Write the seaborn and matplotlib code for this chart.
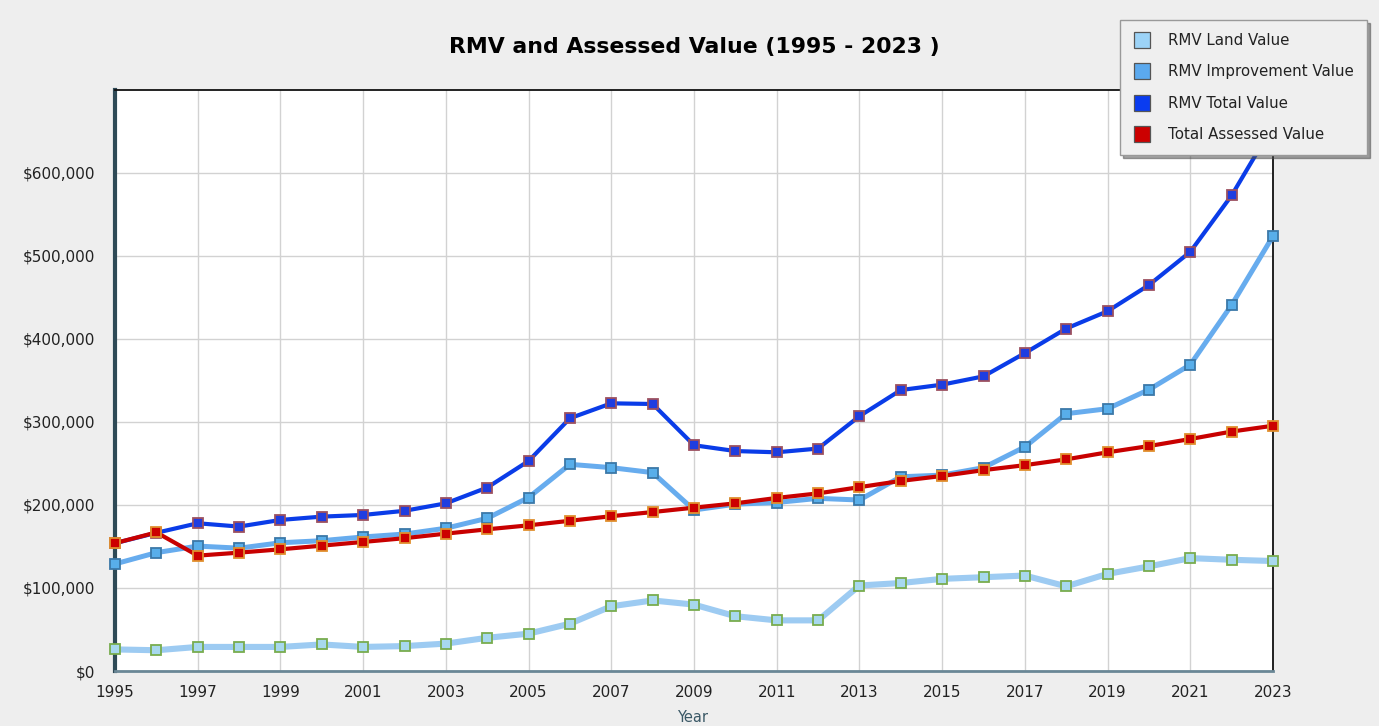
import matplotlib
matplotlib.use("Agg")
import matplotlib.pyplot as plt
import matplotlib.ticker as mticker
from matplotlib.lines import Line2D
import seaborn as sns
import pandas as pd

# ---------------- data ----------------
years = list(range(1995, 2024))
rmv_land = [26000, 25000, 29000, 29000, 29000, 32000, 29000, 30000, 33000, 40000,
            45000, 57000, 78000, 85000, 80000, 66000, 61000, 61000, 103000, 106000,
            111000, 113000, 115000, 102000, 117000, 126000, 136000, 134000, 132500]
rmv_improvement = [129000, 142600, 150500, 148000, 154500, 157000, 161500, 165000, 172000, 184000,
                   209000, 249000, 245000, 239000, 194000, 201000, 203000, 208000, 206000, 234000,
                   236000, 245000, 270000, 310000, 316000, 339000, 369000, 441000, 524000]
rmv_total = [154000, 166500, 178000, 174000, 182000, 186000, 188000, 193000, 202000, 221000,
             253000, 304500, 322500, 321700, 272000, 265000, 263500, 268000, 307000, 338500,
             345000, 355000, 383000, 412600, 433500, 465000, 505000, 573000, 657000]
total_assessed = [154000, 167000, 139000, 142600, 146600, 151000, 155500, 160000, 165500, 170700,
                  175500, 181000, 186500, 191500, 196800, 202000, 208500, 214000, 221500, 229000,
                  235000, 242000, 248000, 255000, 263500, 271000, 279500, 288500, 295500]

series_names = ["RMV Land Value", "RMV Improvement Value", "RMV Total Value", "Total Assessed Value"]
series_values = [rmv_land, rmv_improvement, rmv_total, total_assessed]
y_ticks = [0, 100000, 200000, 300000, 400000, 500000, 600000]
x_ticks = list(range(1995, 2024, 2))

# ---------------- styles ----------------
styles = {
    "RMV Land Value":        dict(color="#9DCBF2", lw=4.4, mfc="#A7D8EE", mec="#78AC4E", legend="#9CD3F7"),
    "RMV Improvement Value": dict(color="#67ACEE", lw=3.6, mfc="#58AEEA", mec="#3B78A8", legend="#5BA9EE"),
    "RMV Total Value":       dict(color="#0A3CE8", lw=3.0, mfc="#1F3DE0", mec="#9C5060", legend="#0A3CF0"),
    "Total Assessed Value":  dict(color="#C80000", lw=3.0, mfc="#CC0000", mec="#E0902E", legend="#CC0000"),
}

sns.set_style("white")
plt.rcParams["font.family"] = ["DejaVu Sans"]

fig = plt.figure(figsize=(13.79, 7.26), dpi=100)
fig.patch.set_facecolor("#EEEEEE")
ax = fig.add_axes([115 / 1379, 1 - 671 / 726, (1273 - 115) / 1379, (671 - 90) / 726])
ax.set_facecolor("white")

for i, (name, vals) in enumerate(zip(series_names, series_values)):
    st = styles[name]
    df = pd.DataFrame({"Year": years, "Value": vals})
    sns.lineplot(data=df, x="Year", y="Value", ax=ax, color=st["color"], linewidth=st["lw"],
                 marker="s", markersize=7.6, markerfacecolor=st["mfc"], markeredgecolor=st["mec"],
                 markeredgewidth=1.3, clip_on=False, zorder=3 + i, legend=False)

ax.set_xlim(1995, 2023)
ax.set_ylim(0, 700000)
ax.set_xticks(x_ticks)
ax.set_xticklabels([str(x) for x in x_ticks])
ax.set_yticks(y_ticks)
ax.yaxis.set_major_formatter(mticker.FuncFormatter(lambda v, p: "${:,.0f}".format(v)))
ax.set_xlabel("")
ax.set_ylabel("")

ax.grid(True, color="#D2D2D2", linewidth=1.0)
ax.set_axisbelow(True)

ax.tick_params(axis="both", which="major", direction="out", length=5, width=1.5,
               color="#4A6470", labelsize=11, labelcolor="#222222")
ax.tick_params(axis="y", pad=9)
ax.tick_params(axis="x", pad=5)

for side in ["top", "right"]:
    ax.spines[side].set_visible(True)
    ax.spines[side].set_color("#111111")
    ax.spines[side].set_linewidth(1.3)
ax.spines["left"].set_color("#2E4A56")
ax.spines["left"].set_linewidth(3.0)
ax.spines["bottom"].set_color("#6A8796")
ax.spines["bottom"].set_linewidth(2.0)

fig.text(694 / 1379, 1 - 47 / 726, "RMV and Assessed Value (1995 - 2023 )",
         ha="center", va="center", fontsize=15.8, fontweight="bold", color="#000000")
fig.text(693 / 1379, 1 / 726, "Year", ha="center", va="bottom", fontsize=10.5, color="#3A5866")

handles = [Line2D([0], [0], linestyle="none", marker="s", markersize=11,
                  markerfacecolor=styles[n]["legend"], markeredgecolor="#555555", markeredgewidth=0.9)
           for n in series_names]
leg = fig.legend(handles, series_names, loc="upper right",
                 bbox_to_anchor=(1367 / 1379, 1 - 20 / 726), fontsize=10.8,
                 frameon=True, fancybox=False, shadow=True, labelspacing=1.1,
                 handletextpad=1.1, borderpad=0.85, handlelength=1.3, borderaxespad=0)
leg.get_frame().set_facecolor("#EFEFEF")
leg.get_frame().set_edgecolor("#999999")
leg.get_frame().set_linewidth(1.0)
for t in leg.get_texts():
    t.set_color("#222222")
leg.set_zorder(20)

fig.savefig("out.png", dpi=100, facecolor=fig.get_facecolor())
